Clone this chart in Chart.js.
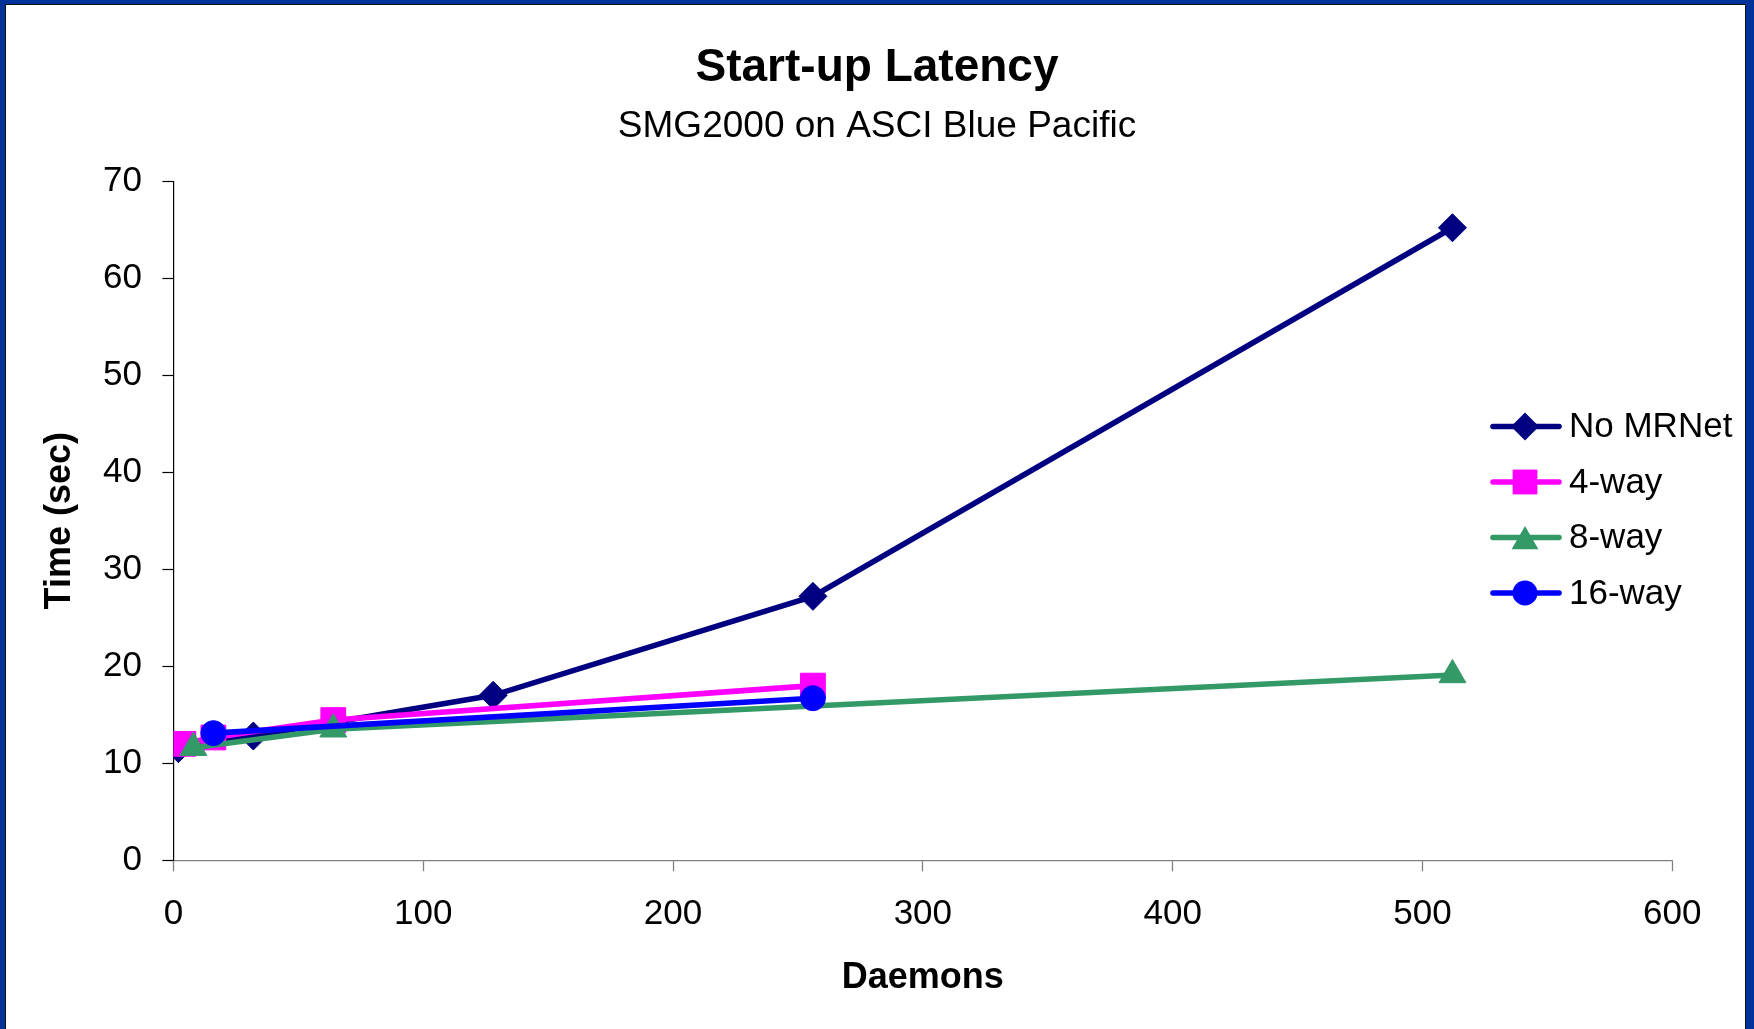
<!DOCTYPE html>
<html><head><meta charset="utf-8">
<script src="https://cdn.jsdelivr.net/npm/chart.js@4/dist/chart.umd.min.js"></script>
<style>html,body{margin:0;padding:0;background:#fff;} canvas{display:block;}</style>
</head><body>
<canvas id="c" width="1754" height="1029"></canvas>
<script>
// ---- data ----
const seriesNames = ['No MRNet', '4-way', '8-way', '16-way'];
const noMRNetX = [2, 32, 128, 256, 512];
const noMRNetY = [11.5, 12.8, 17.0, 27.2, 65.2];
const fourWayX = [4, 16, 64, 256];
const fourWayY = [12.0, 12.65, 14.45, 18.0];
const eightWayX = [8, 64, 512];
const eightWayY = [11.6, 13.5, 19.1];
const sixteenWayX = [16, 256];
const sixteenWayY = [13.1, 16.7];
const xTicks = [0, 100, 200, 300, 400, 500, 600];
const yTicks = [0, 10, 20, 30, 40, 50, 60, 70];
const titleText = 'Start-up Latency';
const subtitleText = 'SMG2000 on ASCI Blue Pacific';
const xTitle = 'Daemons';
const yTitle = 'Time (sec)';

// ---- styles ----
const colors = ['#000080', '#FF00FF', '#339966', '#0000FF'];
const styles = ['rectRot', 'rect', 'triangle', 'circle'];
const radii = [14, 17.5, 15.5, 12.5];
const LINE_W = 5.6;
const FONT = '"Liberation Sans", Arial, Helvetica, sans-serif';

function pts(xs, ys) { return xs.map((x, i) => ({x: x, y: ys[i]})); }
const seriesData = [pts(noMRNetX, noMRNetY), pts(fourWayX, fourWayY), pts(eightWayX, eightWayY), pts(sixteenWayX, sixteenWayY)];

const datasets = seriesNames.map((n, i) => ({
  label: n,
  data: seriesData[i],
  borderColor: colors[i],
  backgroundColor: colors[i],
  borderWidth: LINE_W,
  pointStyle: styles[i],
  pointRadius: radii[i],
  pointHoverRadius: radii[i],
  pointBackgroundColor: colors[i],
  pointBorderColor: colors[i],
  pointBorderWidth: 1,
  tension: 0,
  fill: false,
  order: 4 - i
}));

function drawMarker(ctx, style, x, y, r, color) {
  ctx.save();
  ctx.fillStyle = color;
  ctx.beginPath();
  if (style === 'rectRot') {
    ctx.moveTo(x - r, y); ctx.lineTo(x, y - r); ctx.lineTo(x + r, y); ctx.lineTo(x, y + r);
  } else if (style === 'rect') {
    const s = Math.SQRT1_2 * r;
    ctx.rect(x - s, y - s, 2 * s, 2 * s);
  } else if (style === 'triangle') {
    ctx.moveTo(x, y - 0.75 * r);
    ctx.lineTo(x + 0.866 * r, y + 0.75 * r);
    ctx.lineTo(x - 0.866 * r, y + 0.75 * r);
  } else {
    ctx.arc(x, y, r, 0, Math.PI * 2);
  }
  ctx.closePath();
  ctx.fill();
  ctx.restore();
}

const framePlugin = {
  id: 'frame',
  beforeDraw(chart) {
    const ctx = chart.ctx;
    ctx.save();
    ctx.fillStyle = '#003399';
    ctx.fillRect(0, 0, chart.width, chart.height);
    ctx.fillStyle = '#111111';
    ctx.fillRect(5, 4, 1741, chart.height - 4);
    ctx.fillStyle = '#ffffff';
    ctx.fillRect(6, 5, 1739, chart.height - 5);
    ctx.restore();
  }
};

const legendPlugin = {
  id: 'customLegend',
  afterDraw(chart) {
    const ctx = chart.ctx;
    const ys = [426.5, 482, 537.5, 593];
    ctx.save();
    chart.data.datasets.forEach((ds, i) => {
      const y = ys[i];
      ctx.strokeStyle = ds.borderColor;
      ctx.lineWidth = LINE_W;
      ctx.lineCap = 'round';
      ctx.beginPath();
      ctx.moveTo(1493, y); ctx.lineTo(1559, y);
      ctx.stroke();
      drawMarker(ctx, ds.pointStyle, 1525, y, ds.pointRadius, ds.borderColor);
      ctx.fillStyle = '#000';
      ctx.font = '35px ' + FONT;
      ctx.textAlign = 'left';
      ctx.textBaseline = 'middle';
      ctx.fillText(ds.label, 1569, y + 1);
    });
    ctx.restore();
  }
};

Chart.defaults.color = '#000';
Chart.defaults.font.family = FONT;

new Chart(document.getElementById('c'), {
  type: 'line',
  data: { datasets: datasets },
  plugins: [framePlugin, legendPlugin],
  options: {
    responsive: false,
    animation: false,
    events: [],
    layout: { padding: { left: 0, top: 0, right: 0, bottom: 0 } },
    plugins: {
      legend: { display: false },
      tooltip: { enabled: false },
      title: {
        display: true, text: titleText, color: '#000',
        font: { size: 46, weight: 'bold', family: FONT, lineHeight: 1.2 },
        padding: { top: 40.8, bottom: 0 }
      },
      subtitle: {
        display: true, text: subtitleText, color: '#000',
        font: { size: 37, weight: 'normal', family: FONT, lineHeight: 1.2 },
        padding: { top: 8.2, bottom: 32.6 }
      }
    },
    scales: {
      x: {
        type: 'linear', position: 'bottom', min: xTicks[0], max: xTicks[xTicks.length - 1],
        afterBuildTicks: s => { s.ticks = xTicks.map(v => ({value: v})); },
        afterFit: s => { s.height = 168.8; },
        ticks: { font: { size: 35, family: FONT }, padding: 21.8, color: '#000', maxRotation: 0 },
        grid: { display: true, drawOnChartArea: false, drawTicks: true, tickLength: 11, tickColor: '#808080', tickWidth: 1.3 },
        border: { display: true, color: '#808080', width: 1.3 },
        title: { display: true, text: xTitle, color: '#000', font: { size: 36, weight: 'bold', family: FONT, lineHeight: 1.2 }, padding: { top: 0, bottom: 29.4 } }
      },
      y: {
        type: 'linear', position: 'left', min: yTicks[0], max: yTicks[yTicks.length - 1],
        afterBuildTicks: s => { s.ticks = yTicks.map(v => ({value: v})); },
        afterFit: s => { s.width = 173.4; },
        ticks: { font: { size: 35, family: FONT }, padding: 20.4, color: '#000' },
        grid: { display: true, drawOnChartArea: false, drawTicks: true, tickLength: 11, tickColor: '#000', tickWidth: 1.2 },
        border: { display: true, color: '#000', width: 1.2 },
        title: { display: true, text: yTitle, color: '#000', font: { size: 36, weight: 'bold', family: FONT, lineHeight: 1.2 }, padding: { top: 38.4, bottom: 0 } }
      },
      yRightSpacer: {
        type: 'linear', position: 'right', min: 0, max: 1, display: true,
        afterFit: s => { s.width = 81.7; },
        ticks: { display: false },
        grid: { display: false, drawTicks: false },
        border: { display: false },
        title: { display: false }
      }
    }
  }
});
</script>
</body></html>
